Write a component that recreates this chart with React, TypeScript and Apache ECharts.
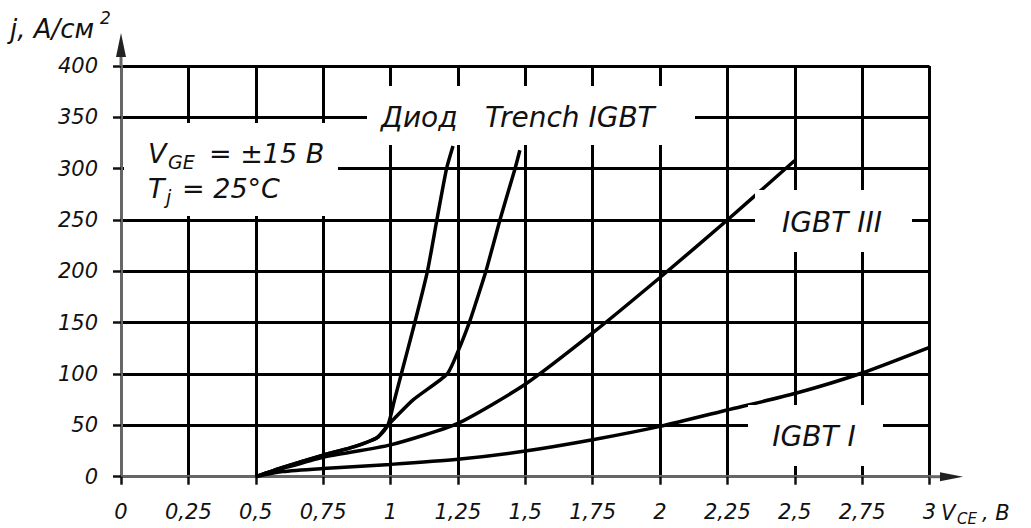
import React, { useEffect, useRef } from "react";
import * as echarts from "echarts";

// ---- data ----
const diodeV = [0.5, 0.6, 0.75, 0.85, 0.95, 0.99, 1.015, 1.04, 1.09, 1.137, 1.172, 1.208, 1.232];
const diodeJ = [0, 9, 21, 28, 38, 50, 75, 100, 150, 200, 250, 300, 322];

const trenchV = [0.5, 0.6, 0.75, 0.85, 0.95, 0.99, 1.085, 1.21, 1.252, 1.295, 1.32, 1.354, 1.406, 1.462, 1.48];
const trenchJ = [0, 9, 21, 28, 38, 50, 75, 100, 123, 152, 172, 200, 250, 300, 318];

const igbt3V = [0.5, 0.6, 0.75, 1.0, 1.25, 1.5, 1.75, 2.0, 2.25, 2.5];
const igbt3J = [0, 8, 19, 31, 52, 90, 140, 194, 250, 308];

const igbt1V = [0.5, 0.6, 0.75, 1.0, 1.25, 1.5, 1.75, 2.0, 2.25, 2.5, 2.75, 3.0];
const igbt1J = [0, 5, 8, 12, 17, 25, 36, 49, 65, 81, 101, 126];

const xMin = 0, xMax = 3, xStep = 0.25;
const yMin = 0, yMax = 400, yStep = 50;

const seriesNames = ["Диод", "Trench IGBT", "IGBT III", "IGBT I"];

const zip = (xs: number[], ys: number[]) => xs.map((x, i) => [x, ys[i]]);

const W = 1031, H = 528;
const GL = 121, GR = 929.5, GT = 66, GB = 476.7;
const FONT = "DejaVu Sans";

function txt(text: string, x: number, y: number, size: number, align = "left", extra: any = {}) {
  return {
    type: "text",
    x, y, z: 20,
    style: {
      text, fontSize: size, fontFamily: FONT, fontStyle: "italic",
      fill: "#111", align, verticalAlign: "middle", ...extra,
    },
  };
}
function box(x1: number, y1: number, x2: number, y2: number) {
  return {
    type: "rect", z: 10,
    shape: { x: x1, y: y1, width: x2 - x1, height: y2 - y1 },
    style: { fill: "#fff" },
  };
}

export default function App() {
  const ref = useRef<HTMLDivElement>(null);
  useEffect(() => {
    if (!ref.current) return;
    const chart = echarts.init(ref.current, undefined, { renderer: "svg" });
    const mk = (name: string, data: number[][]) => ({
      name, type: "line", data, showSymbol: false, symbol: "none",
      smooth: 0.2,
      lineStyle: { color: "#000", width: 3.5 }, z: 5,
    });
    chart.setOption({
      animation: false,
      backgroundColor: "#fff",
      grid: { left: GL, right: W - GR, top: GT, bottom: H - GB, containLabel: false },
      xAxis: {
        type: "value", min: xMin, max: xMax, interval: xStep,
        axisLine: { show: true, lineStyle: { color: "#666", width: 3 } },
        axisTick: { show: true, length: 8, lineStyle: { color: "#111", width: 2.5 } },
        splitLine: { show: true, showMinLine: false, lineStyle: { color: "#000", width: 3 } },
        axisLabel: {
          margin: 35, verticalAlign: "middle", fontSize: 21, fontFamily: FONT, fontStyle: "italic", color: "#111",
          formatter: (v: number) => String(v).replace(".", ","),
        },
      },
      yAxis: {
        type: "value", min: yMin, max: yMax, interval: yStep,
        axisLine: { show: true, lineStyle: { color: "#666", width: 3 } },
        axisTick: { show: true, length: 8, lineStyle: { color: "#111", width: 2.5 } },
        splitLine: { show: true, showMinLine: false, lineStyle: { color: "#000", width: 3 } },
        axisLabel: { margin: 23, fontSize: 21, fontFamily: FONT, fontStyle: "italic", color: "#111" },
      },
      series: [
        mk(seriesNames[3], zip(igbt1V, igbt1J)),
        mk(seriesNames[2], zip(igbt3V, igbt3J)),
        mk(seriesNames[1], zip(trenchV, trenchJ)),
        mk(seriesNames[0], zip(diodeV, diodeJ)),
      ],
      graphic: [
        // axis arrows
        { type: "line", z: 8, shape: { x1: GL, y1: GT, x2: GL, y2: 44 }, style: { stroke: "#666", lineWidth: 3 } },
        { type: "polygon", z: 9, shape: { points: [[GL, 33], [GL - 5, 57], [GL + 5, 57]] }, style: { fill: "#222" } },
        { type: "line", z: 8, shape: { x1: GR, y1: GB, x2: 952, y2: GB }, style: { stroke: "#666", lineWidth: 3 } },
        { type: "polygon", z: 9, shape: { points: [[963, GB], [940, GB - 4.5], [940, GB + 4.5]] }, style: { fill: "#222" } },
        // white label boxes
        box(367, 86, 695, 145),
        box(124, 123, 338, 216),
        box(755, 190, 912, 252),
        box(748, 405, 883, 466),
        // labels
        txt("Диод", 381, 117, 28),
        txt("Trench IGBT", 485, 117, 28),
        txt("IGBT III", 832, 222, 28, "center"),
        txt("IGBT I", 814, 436, 28, "center"),
        txt("V", 148, 153, 27),
        txt("GE", 168, 162, 19),
        txt("= ±15 B", 209, 153, 27),
        txt("T", 148, 188, 27),
        txt("j", 166, 197, 19),
        txt("= 25°C", 182, 188, 27),
        // axis names
        txt("j, A/см", 10, 29, 26),
        txt("2", 100, 18, 17),
        txt("V", 941, 513, 21),
        txt("CE", 957, 519, 15),
        txt(", B", 982, 513, 21),
      ],
    });
    return () => chart.dispose();
  }, []);
  return <div ref={ref} style={{ position: "absolute", left: 0, top: 0, width: W, height: H }} />;
}
